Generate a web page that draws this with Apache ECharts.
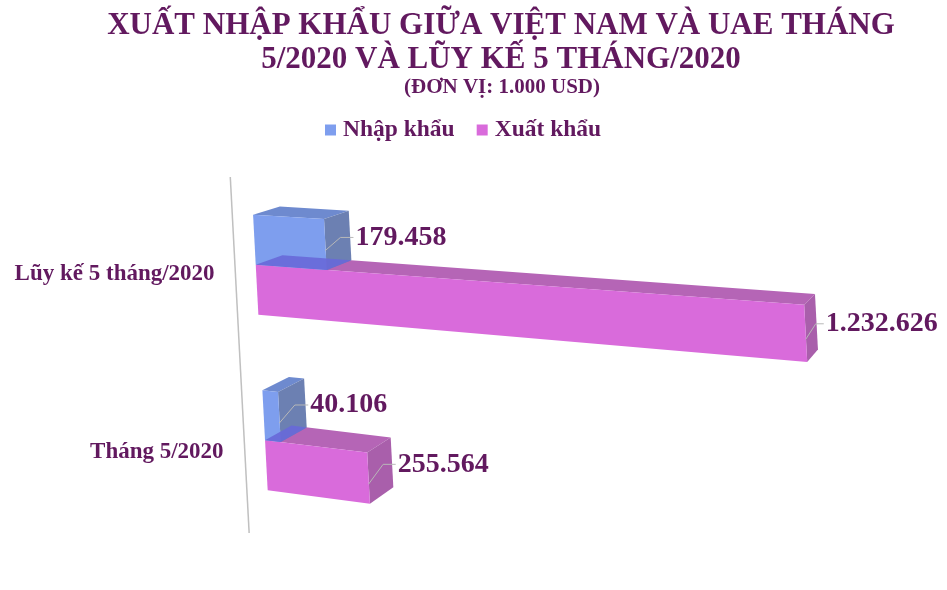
<html>
<head>
    <meta charset="utf-8">
    <title>Xuất nhập khẩu Việt Nam - UAE</title>
    <script src="https://cdn.jsdelivr.net/npm/echarts@6/dist/echarts.min.js"></script>
</head>
<body style="margin:0">
<div id="main" style="width: 947px;height:590px;"></div>
<script>
    // du lieu (don vi: 1.000 USD)
    var categories = ['Lũy kế 5 tháng/2020', 'Tháng 5/2020'];
    var importValues = [179458, 40106];     // Nhập khẩu
    var exportValues = [1232626, 255564];   // Xuất khẩu
    var seriesNames = ['Nhập khẩu', 'Xuất khẩu'];
    var valueLabels = [['179.458', '40.106'], ['1.232.626', '255.564']];

    var purple = '#62195f';
    var serif = '"Liberation Serif", "DejaVu Serif", serif';

    // gia lap phoi canh 3D cua Excel
    var GRID_LEFT = 257.6, YC = 300;
    var B = 0.000266, K = 0.0822, S = 0.053;
    var VP = [1177, -66], DEPTH = 0.029;
    function proj(u, v) {
        var w = 1 - B * u;
        return [GRID_LEFT + (u + S * v) / w, YC + (v + K * u) / w];
    }
    function back(p) {
        return [p[0] + DEPTH * (VP[0] - p[0]), p[1] + DEPTH * (VP[1] - p[1])];
    }

    var colors = [
        {front: '#7e9eee', top: '#6e8acf', side: '#6c80b2', bottom: '#6868d8'},
        {front: '#d96bdb', top: '#b565b6', side: '#a95fab'}
    ];

    function makeRender(idx) {
        return function (params, api) {
            var val = api.value(0), cat = api.value(1);
            var p0 = api.coord([0, cat]), p1 = api.coord([val, cat]);
            var band = api.size([0, 1])[1];
            var h = band * 0.285;
            var u0 = p0[0] - GRID_LEFT, u1 = p1[0] - GRID_LEFT;
            var vTop = (idx === 0 ? p0[1] - h : p0[1]) - YC;
            var vBot = vTop + h;
            var fTL = proj(u0, vTop), fTR = proj(u1, vTop), fBR = proj(u1, vBot), fBL = proj(u0, vBot);
            var bTL = back(fTL), bTR = back(fTR), bBR = back(fBR), bBL = back(fBL);
            var c = colors[idx];
            var kids = [
                {type: 'polygon', shape: {points: [fTL, fTR, bTR, bTL]}, style: {fill: c.top}},
                {type: 'polygon', shape: {points: [fTR, bTR, bBR, fBR]}, style: {fill: c.side}},
                {type: 'polygon', shape: {points: [fTL, fTR, fBR, fBL]}, style: {fill: c.front}}
            ];
            if (c.bottom) {
                kids.push({type: 'polygon', shape: {points: [fBL, fBR, bBR, bBL]},
                    style: {fill: c.bottom, opacity: 0.9}});
            }
            // nhan gia tri + duong dan
            var lx = bTR[0] + 6 + u1 * 0.01;
            var ly = (bTR[1] + bBR[1]) / 2 + 2;
            var mid = [(fTR[0] + fBR[0]) / 2, (fTR[1] + fBR[1]) / 2 + 6];
            kids.push({type: 'polyline', shape: {points: [mid, [(mid[0] + lx) / 2, ly], [lx - 2, ly]]},
                style: {stroke: '#b8b8b8', lineWidth: 1, fill: null}});
            kids.push({type: 'text', x: lx, y: ly, style: {
                text: valueLabels[idx][params.dataIndex], fill: purple,
                font: 'bold 28px ' + serif, verticalAlign: 'middle', align: 'left'}});
            return {type: 'group', children: kids};
        };
    }

    function toData(arr) {
        return arr.map(function (v, i) { return [v, i]; });
    }

    // truc dung nghieng
    var axTop = proj(-21, -122), axBot = proj(-21, 236);

    var myChart = echarts.init(document.getElementById('main'));
    myChart.setOption({
        animation: false,
        title: [{
            text: 'XUẤT NHẬP KHẨU GIỮA VIỆT NAM VÀ UAE THÁNG\n5/2020 VÀ LŨY KẾ 5 THÁNG/2020',
            left: 496, top: 4, textAlign: 'center',
            textStyle: {color: purple, fontFamily: serif, fontWeight: 'bold', fontSize: 31, lineHeight: 34}
        }, {
            text: '(ĐƠN VỊ: 1.000 USD)',
            left: 497, top: 72, textAlign: 'center',
            textStyle: {color: purple, fontFamily: serif, fontWeight: 'bold', fontSize: 21}
        }],
        legend: {
            top: 113, left: 320,
            itemWidth: 11, itemHeight: 11, itemGap: 22,
            icon: 'rect',
            data: [
                {name: seriesNames[0], itemStyle: {color: colors[0].front}},
                {name: seriesNames[1], itemStyle: {color: colors[1].front}}
            ],
            textStyle: {color: purple, fontFamily: serif, fontWeight: 'bold', fontSize: 23.5, padding: [0, 0, 0, 2]}
        },
        grid: {left: GRID_LEFT, top: 177, width: 505, height: 351},
        xAxis: {
            type: 'value', min: 0, max: 1300000, show: false
        },
        yAxis: {
            type: 'category', data: categories, inverse: true,
            axisLine: {show: false}, axisTick: {show: false},
            axisLabel: {
                margin: 34, color: purple, fontFamily: serif, fontWeight: 'bold', fontSize: 23,
                formatter: function (v, i) { return i === 0 ? '{a|' + v + '}' : '{b|' + v + '}'; },
                rich: {
                    a: {color: purple, fontFamily: serif, fontWeight: 'bold', fontSize: 23, padding: [18, 9, 0, 0]},
                    b: {color: purple, fontFamily: serif, fontWeight: 'bold', fontSize: 23, padding: [24, 0, 0, 0]}
                }
            }
        },
        graphic: [{
            type: 'line', shape: {x1: axTop[0], y1: axTop[1], x2: axBot[0], y2: axBot[1]},
            style: {stroke: '#c0c0c0', lineWidth: 1.5}
        }],
        series: [{
            name: seriesNames[1], type: 'custom', renderItem: makeRender(1),
            encode: {x: 0, y: 1}, data: toData(exportValues),
            itemStyle: {color: colors[1].front}, z: 2
        }, {
            name: seriesNames[0], type: 'custom', renderItem: makeRender(0),
            encode: {x: 0, y: 1}, data: toData(importValues),
            itemStyle: {color: colors[0].front}, z: 3
        }]
    });
</script>
</body>
</html>
